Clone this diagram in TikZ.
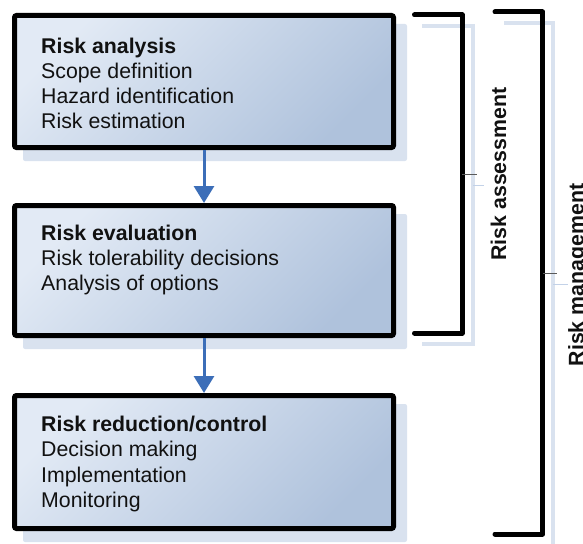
\documentclass[tikz,border=0pt]{standalone}
\usepackage{fontspec}
\setmainfont{Liberation Sans}
\usetikzlibrary{arrows.meta,backgrounds}
\definecolor{boxlight}{HTML}{E2EAF5}
\definecolor{boxdark}{HTML}{AFC2DC}
\definecolor{shadowc}{HTML}{D9E2EF}
\definecolor{arrowc}{HTML}{3C6EB8}
\definecolor{tickgray}{HTML}{5A5A5A}
\definecolor{ticklight}{HTML}{C3D2E8}
\definecolor{textc}{HTML}{111111}
\tikzset{
 boxnode/.style={draw=black, line width=5pt, rounded corners=2pt, inner sep=0pt,
   top color=boxlight, bottom color=boxdark, shading angle=45, minimum width=379pt},
 shadowfill/.style={fill=shadowc, rounded corners=2pt},
 txt/.style={anchor=base west, inner sep=0pt, text=textc, font=\fontsize{21.3}{25}\selectfont},
 hdr/.style={anchor=base west, inner sep=0pt, text=textc, font=\fontsize{21.3}{25}\selectfont\bfseries},
 flow/.style={draw=arrowc, line width=3pt, -{Triangle[width=20pt,length=17pt]}},
 bracket/.style={draw=black, line width=5pt, line cap=round, line join=round},
 bracketshadow/.style={draw=shadowc, line width=4pt},
 tickdark/.style={draw=tickgray, line width=0.9pt},
 ticklt/.style={draw=ticklight, line width=0.9pt},
 lbl/.style={rotate=90, anchor=base, inner sep=0pt, text=textc, font=\fontsize{21.3}{25}\selectfont\bfseries},
}
\begin{document}
\begin{tikzpicture}[x=1pt,y=-1pt]
\useasboundingbox (0,0) rectangle (583,543);
% boxes
\node[boxnode, minimum height=132pt] (b1) at (204,81.5) {};
\node[boxnode, minimum height=130pt] (b2) at (204,270.5) {};
\node[boxnode, minimum height=133pt] (b3) at (204,462) {};
\begin{scope}[on background layer]
 \fill[shadowfill] ([shift={(11,11)}]b1.south west) rectangle ([shift={(11,11)}]b1.north east);
 \fill[shadowfill] ([shift={(11,11)}]b2.south west) rectangle ([shift={(11,11)}]b2.north east);
 \fill[shadowfill] ([shift={(11,11)}]b3.south west) rectangle ([shift={(11,11)}]b3.north east);
\end{scope}
% arrows
\draw[flow] (b1.south) -- (b2.north);
\draw[flow] (b2.south) -- (b3.north);
% texts
\node[hdr] (t11) at (41,53) {Risk analysis};
\node[txt] (t12) at (41,78) {Scope definition};
\node[txt] (t13) at (41,103) {Hazard identification};
\node[txt] (t14) at (41,128) {Risk estimation};
\node[hdr] (t21) at (41,240) {Risk evaluation};
\node[txt] (t22) at (41,265) {Risk tolerability decisions};
\node[txt] (t23) at (41,290) {Analysis of options};
\node[hdr] (t31) at (41,431) {Risk reduction/control};
\node[txt] (t32) at (41,456) {Decision making};
\node[txt] (t33) at (41,482) {Implementation};
\node[txt] (t34) at (41,507) {Monitoring};
% bracket 1: risk assessment
\coordinate (a1) at (414.5,15);
\coordinate (a2) at (462,15);
\coordinate (a3) at (462,333);
\coordinate (a4) at (414.5,333);
\coordinate (am) at (462,174);
\coordinate (amt) at (477,174);
\coordinate (s1) at (422,26);
\coordinate (s2) at (473,26);
\coordinate (s3) at (473,344);
\coordinate (s4) at (422,344);
\coordinate (sm) at (473,185);
\coordinate (smt) at (484,185);
\draw[bracketshadow] (s1) -- (s2) -- (s3) -- (s4);
\draw[ticklt] (sm) -- (smt);
\draw[bracket] (a1) -- (a2) -- (a3) -- (a4);
\draw[tickdark] (am) -- (amt);
\node[lbl] (la) at (506,174) {Risk assessment};
% bracket 2: risk management
\coordinate (m1) at (495,12);
\coordinate (m2) at (542.5,12);
\coordinate (m3) at (542.5,534);
\coordinate (m4) at (495,534);
\coordinate (mm) at (542.5,273);
\coordinate (mmt) at (557,273);
\coordinate (n1) at (504,23);
\coordinate (n2) at (553,23);
\coordinate (n3) at (553,550);
\coordinate (nm) at (553,284);
\coordinate (nmt) at (568,284);
\draw[bracketshadow] (n1) -- (n2) -- (n3);
\draw[ticklt] (nm) -- (nmt);
\draw[bracket] (m1) -- (m2) -- (m3) -- (m4);
\draw[tickdark] (mm) -- (mmt);
\node[lbl] (lm) at (583.5,275) {Risk management};
\end{tikzpicture}
\end{document}
